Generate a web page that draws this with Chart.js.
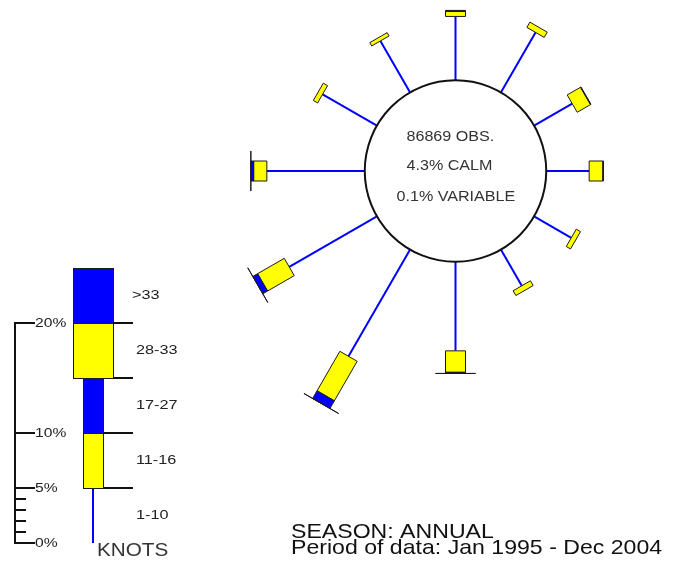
<!DOCTYPE html>
<html>
<head>
<meta charset="utf-8">
<script src="https://cdn.jsdelivr.net/npm/chart.js@4/dist/chart.umd.min.js"></script>
<style>
  html, body { margin: 0; padding: 0; background: #fff; }
  #wrap { position: relative; width: 682px; height: 563px; }
</style>
</head>
<body>
<div id="wrap"><canvas id="rose-chart"></canvas></div>
<script>
// Wind directions (degrees the wind blows from)
const directions = [0, 30, 60, 90, 120, 150, 180, 210, 240, 270, 300, 330];

// Percent frequency per speed class (knots)
const speed1to10  = [5.8, 6.3, 4.0, 3.9, 3.9, 3.8, 8.1, 11.2, 9.2, 8.9, 5.7, 5.4];
const speed11to16 = [0.45, 0.55, 1.4, 1.25, 0.45, 0.5, 1.95, 4.15, 2.8, 1.2, 0.45, 0.35];
const speed17to27 = [0.1, 0, 0.05, 0.05, 0, 0, 0.1, 0.8, 0.5, 0.25, 0, 0];
const speed28to33 = [0, 0, 0, 0, 0, 0, 0.01, 0.01, 0.01, 0.01, 0, 0];
const speedOver33 = [0, 0, 0, 0, 0, 0, 0, 0, 0, 0, 0, 0];

// Legend
const speedLabels = ['1-10', '11-16', '17-27', '28-33', '>33'];
const legendBreaks = [0, 5, 10, 15, 20, 25];
const majorTicks = [0, 5, 10, 20];
const minorTicks = [1, 2, 3, 4];

const totalObs = 86869;
const calmPct = 4.3;
const variablePct = 0.1;
const seasonText = 'SEASON: ANNUAL';
const periodText = 'Period of data: Jan 1995 - Dec 2004';

// Layout
const W = 682, H = 563;
const PX = 11;                 // pixels per 1 % frequency
const roseCX = 455.5, roseCY = 171;
const legendZeroY = 543;
const circleR = 8.25;          // calm circle radius, in % units
const NARROW = 20, WIDE = 40;  // box widths in px
const BLUE = '#0000ff', YELLOW = '#ffff00', EDGE = '#1a1a1a';

const rayDatasets = directions.map((deg, i) => {
    const a = deg * Math.PI / 180;
    const r1 = circleR, r2 = circleR + speed1to10[i];
    return {
        label: deg + '°',
        data: [
            { x: r1 * Math.sin(a), y: r1 * Math.cos(a) },
            { x: r2 * Math.sin(a), y: r2 * Math.cos(a) }
        ],
        showLine: true,
        borderColor: BLUE,
        borderWidth: 2,
        pointRadius: 0,
        xAxisID: 'x',
        yAxisID: 'y'
    };
});

function stretchText(ctx, text, x, y, font, sx, align, color) {
    ctx.save();
    ctx.translate(x, y);
    ctx.scale(sx, 1);
    ctx.font = font;
    ctx.textAlign = align || 'left';
    ctx.textBaseline = 'middle';
    ctx.fillStyle = color || '#222';
    ctx.fillText(text, 0, 0);
    ctx.restore();
}

function drawBox(ctx, p1, p2, ux, uy, half, color) {
    // ux, uy = perpendicular unit vector in pixel space
    ctx.beginPath();
    ctx.moveTo(p1.x + ux * half, p1.y + uy * half);
    ctx.lineTo(p2.x + ux * half, p2.y + uy * half);
    ctx.lineTo(p2.x - ux * half, p2.y - uy * half);
    ctx.lineTo(p1.x - ux * half, p1.y - uy * half);
    ctx.closePath();
    ctx.fillStyle = color;
    ctx.fill();
    ctx.lineWidth = 1;
    ctx.strokeStyle = EDGE;
    ctx.stroke();
}

const windRosePlugin = {
    id: 'windRose',
    afterDatasetsDraw(chart) {
        const ctx = chart.ctx;
        const xs = chart.scales.x, ys = chart.scales.y, yl = chart.scales.yLeg;
        const cx = xs.getPixelForValue(0), cy = ys.getPixelForValue(0);
        const rPx = xs.getPixelForValue(circleR) - cx;
        ctx.save();

        // calm circle
        ctx.beginPath();
        ctx.arc(cx, cy, rPx, 0, Math.PI * 2);
        ctx.fillStyle = '#fff';
        ctx.fill();
        ctx.lineWidth = 2;
        ctx.strokeStyle = '#111';
        ctx.stroke();

        stretchText(ctx, totalObs + ' OBS.', 406.5, 137, '14px "Liberation Sans"', 1.15, 'left', '#333');
        stretchText(ctx, calmPct.toFixed(1) + '% CALM', 406.5, 166, '14px "Liberation Sans"', 1.15, 'left', '#333');
        stretchText(ctx, variablePct.toFixed(1) + '% VARIABLE', 396.5, 197, '14px "Liberation Sans"', 1.15, 'left', '#333');

        // stacked boxes on each ray
        const classes = [
            { vals: speed11to16, color: YELLOW, half: NARROW / 2 },
            { vals: speed17to27, color: BLUE, half: NARROW / 2 },
            { vals: speed28to33, color: YELLOW, half: WIDE / 2 },
            { vals: speedOver33, color: BLUE, half: WIDE / 2 }
        ];
        directions.forEach((deg, i) => {
            const a = deg * Math.PI / 180;
            const at = r => ({
                x: xs.getPixelForValue(r * Math.sin(a)),
                y: ys.getPixelForValue(r * Math.cos(a))
            });
            let r = circleR + speed1to10[i];
            classes.forEach(c => {
                const v = c.vals[i];
                if (v <= 0) return;
                drawBox(ctx, at(r), at(r + v), Math.cos(a), Math.sin(a), c.half, c.color);
                r += v;
            });
        });

        // legend scale
        const axisX = 15;
        ctx.strokeStyle = '#111';
        ctx.lineWidth = 2;
        ctx.beginPath();
        ctx.moveTo(axisX, yl.getPixelForValue(0));
        ctx.lineTo(axisX, yl.getPixelForValue(20));
        ctx.stroke();
        majorTicks.forEach(t => {
            const y = Math.round(yl.getPixelForValue(t));
            ctx.beginPath();
            ctx.moveTo(axisX - 1, y);
            ctx.lineTo(35, y);
            ctx.stroke();
            stretchText(ctx, t + '%', 35, y + 1, '12.5px "Liberation Sans"', 1.25, 'left', '#222');
        });
        minorTicks.forEach(t => {
            const y = Math.round(yl.getPixelForValue(t));
            ctx.beginPath();
            ctx.moveTo(axisX, y);
            ctx.lineTo(26, y);
            ctx.stroke();
        });

        // legend bar
        const barX = 93;
        ctx.strokeStyle = BLUE;
        ctx.lineWidth = 2;
        ctx.beginPath();
        ctx.moveTo(barX, yl.getPixelForValue(legendBreaks[0]));
        ctx.lineTo(barX, yl.getPixelForValue(legendBreaks[1]));
        ctx.stroke();
        const legColors = [null, YELLOW, BLUE, YELLOW, BLUE];
        const legWidths = [0, NARROW, NARROW, WIDE, WIDE];
        for (let k = 1; k < speedLabels.length; k++) {
            const yTop = yl.getPixelForValue(legendBreaks[k + 1]);
            const yBot = yl.getPixelForValue(legendBreaks[k]);
            const w = legWidths[k];
            ctx.fillStyle = legColors[k];
            ctx.fillRect(barX - w / 2, yTop, w, yBot - yTop);
            ctx.lineWidth = 1;
            ctx.strokeStyle = EDGE;
            ctx.strokeRect(barX - w / 2 + 0.5, yTop + 0.5, w, yBot - yTop);
        }
        // right-hand ticks at class breaks
        ctx.strokeStyle = '#111';
        ctx.lineWidth = 2;
        for (let k = 1; k <= 4; k++) {
            const y = Math.round(yl.getPixelForValue(legendBreaks[k]));
            const w = k <= 2 ? NARROW : WIDE;
            ctx.beginPath();
            ctx.moveTo(barX + w / 2, y);
            ctx.lineTo(133, y);
            ctx.stroke();
        }
        speedLabels.forEach((lab, k) => {
            const y = yl.getPixelForValue((legendBreaks[k] + legendBreaks[k + 1]) / 2);
            stretchText(ctx, lab, k === 4 ? 132 : 136, y, '13px "Liberation Sans"', 1.25, 'left', '#222');
        });
        stretchText(ctx, 'KNOTS', 97, 551, '18px "Liberation Sans"', 1.15, 'left', '#333');

        // footer
        stretchText(ctx, seasonText, 291, 532, '21px "Liberation Sans"', 1.1, 'left', '#111');
        stretchText(ctx, periodText, 291, 548, '21px "Liberation Sans"', 1.1, 'left', '#111');

        ctx.restore();
    }
};

new Chart(document.getElementById('rose-chart').getContext('2d'), {
    type: 'scatter',
    data: { datasets: rayDatasets },
    options: {
        responsive: true,
        maintainAspectRatio: false,
        animation: false,
        layout: { padding: 0 },
        plugins: {
            legend: { display: false },
            tooltip: { enabled: false }
        },
        scales: {
            x: { type: 'linear', display: false, min: -roseCX / PX, max: (W - roseCX) / PX },
            y: { type: 'linear', display: false, min: -(H - roseCY) / PX, max: roseCY / PX },
            yLeg: { type: 'linear', display: false, min: -(H - legendZeroY) / PX, max: legendZeroY / PX }
        }
    },
    plugins: [windRosePlugin]
});
</script>
</body>
</html>
